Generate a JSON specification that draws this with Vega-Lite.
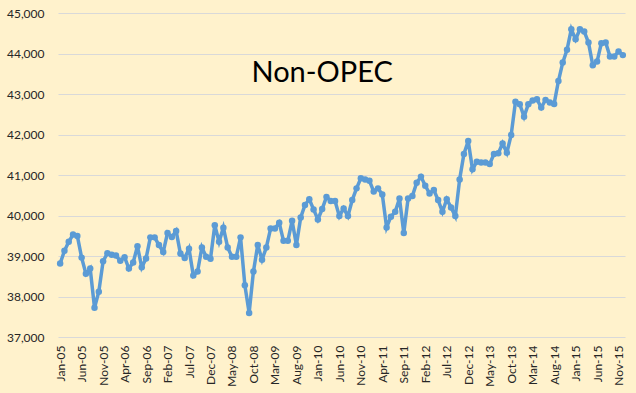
{
  "$schema": "https://vega.github.io/schema/vega-lite/v6.json",
  "autosize": {"type": "none"},
  "padding": {"left": 58, "top": 13, "right": 11, "bottom": 56},
  "width": 567,
  "height": 324,
  "background": "#FFF2CC",
  "config": {
    "view": {"stroke": null},
    "font": "Lato",
    "axis": {"labelFont": "Lato", "labelColor": "#262626", "labelFontSize": 12}
  },
  "datasets": {
    "series": [
      {"m": "Jan-05", "v": 38815}, {"m": "Feb-05", "v": 39127}, {"m": "Mar-05", "v": 39350}, {"m": "Apr-05", "v": 39530},
      {"m": "May-05", "v": 39495}, {"m": "Jun-05", "v": 38960}, {"m": "Jul-05", "v": 38560}, {"m": "Aug-05", "v": 38690},
      {"m": "Sep-05", "v": 37720}, {"m": "Oct-05", "v": 38120}, {"m": "Nov-05", "v": 38870}, {"m": "Dec-05", "v": 39070},
      {"m": "Jan-06", "v": 39030}, {"m": "Feb-06", "v": 39010}, {"m": "Mar-06", "v": 38880}, {"m": "Apr-06", "v": 38970},
      {"m": "May-06", "v": 38690}, {"m": "Jun-06", "v": 38840}, {"m": "Jul-06", "v": 39240}, {"m": "Aug-06", "v": 38720},
      {"m": "Sep-06", "v": 38940}, {"m": "Oct-06", "v": 39460}, {"m": "Nov-06", "v": 39460}, {"m": "Dec-06", "v": 39270},
      {"m": "Jan-07", "v": 39100}, {"m": "Feb-07", "v": 39570}, {"m": "Mar-07", "v": 39470}, {"m": "Apr-07", "v": 39620},
      {"m": "May-07", "v": 39060}, {"m": "Jun-07", "v": 38950}, {"m": "Jul-07", "v": 39180}, {"m": "Aug-07", "v": 38520},
      {"m": "Sep-07", "v": 38620}, {"m": "Oct-07", "v": 39210}, {"m": "Nov-07", "v": 38980}, {"m": "Dec-07", "v": 38930},
      {"m": "Jan-08", "v": 39760}, {"m": "Feb-08", "v": 39350}, {"m": "Mar-08", "v": 39700}, {"m": "Apr-08", "v": 39210},
      {"m": "May-08", "v": 38980}, {"m": "Jun-08", "v": 38980}, {"m": "Jul-08", "v": 39460}, {"m": "Aug-08", "v": 38280},
      {"m": "Sep-08", "v": 37595}, {"m": "Oct-08", "v": 38620}, {"m": "Nov-08", "v": 39270}, {"m": "Dec-08", "v": 38910},
      {"m": "Jan-09", "v": 39210}, {"m": "Feb-09", "v": 39680}, {"m": "Mar-09", "v": 39680}, {"m": "Apr-09", "v": 39820},
      {"m": "May-09", "v": 39375}, {"m": "Jun-09", "v": 39375}, {"m": "Jul-09", "v": 39870}, {"m": "Aug-09", "v": 39270},
      {"m": "Sep-09", "v": 39950}, {"m": "Oct-09", "v": 40260}, {"m": "Nov-09", "v": 40400}, {"m": "Dec-09", "v": 40150},
      {"m": "Jan-10", "v": 39900}, {"m": "Feb-10", "v": 40160}, {"m": "Mar-10", "v": 40460}, {"m": "Apr-10", "v": 40360},
      {"m": "May-10", "v": 40360}, {"m": "Jun-10", "v": 39985}, {"m": "Jul-10", "v": 40175}, {"m": "Aug-10", "v": 39985},
      {"m": "Sep-10", "v": 40380}, {"m": "Oct-10", "v": 40670}, {"m": "Nov-10", "v": 40920}, {"m": "Dec-10", "v": 40890},
      {"m": "Jan-11", "v": 40860}, {"m": "Feb-11", "v": 40590}, {"m": "Mar-11", "v": 40670}, {"m": "Apr-11", "v": 40520},
      {"m": "May-11", "v": 39705}, {"m": "Jun-11", "v": 39970}, {"m": "Jul-11", "v": 40090}, {"m": "Aug-11", "v": 40420},
      {"m": "Sep-11", "v": 39570}, {"m": "Oct-11", "v": 40420}, {"m": "Nov-11", "v": 40480}, {"m": "Dec-11", "v": 40810},
      {"m": "Jan-12", "v": 40960}, {"m": "Feb-12", "v": 40735}, {"m": "Mar-12", "v": 40545}, {"m": "Apr-12", "v": 40630},
      {"m": "May-12", "v": 40380}, {"m": "Jun-12", "v": 40090}, {"m": "Jul-12", "v": 40400}, {"m": "Aug-12", "v": 40200},
      {"m": "Sep-12", "v": 39985}, {"m": "Oct-12", "v": 40890}, {"m": "Nov-12", "v": 41520}, {"m": "Dec-12", "v": 41840},
      {"m": "Jan-13", "v": 41140}, {"m": "Feb-13", "v": 41330}, {"m": "Mar-13", "v": 41310}, {"m": "Apr-13", "v": 41310},
      {"m": "May-13", "v": 41270}, {"m": "Jun-13", "v": 41520}, {"m": "Jul-13", "v": 41535}, {"m": "Aug-13", "v": 41780},
      {"m": "Sep-13", "v": 41550}, {"m": "Oct-13", "v": 41990}, {"m": "Nov-13", "v": 42810}, {"m": "Dec-13", "v": 42750},
      {"m": "Jan-14", "v": 42440}, {"m": "Feb-14", "v": 42750}, {"m": "Mar-14", "v": 42840}, {"m": "Apr-14", "v": 42870},
      {"m": "May-14", "v": 42665}, {"m": "Jun-14", "v": 42855}, {"m": "Jul-14", "v": 42790}, {"m": "Aug-14", "v": 42755},
      {"m": "Sep-14", "v": 43320}, {"m": "Oct-14", "v": 43775}, {"m": "Nov-14", "v": 44090}, {"m": "Dec-14", "v": 44600},
      {"m": "Jan-15", "v": 44350}, {"m": "Feb-15", "v": 44600}, {"m": "Mar-15", "v": 44545}, {"m": "Apr-15", "v": 44270},
      {"m": "May-15", "v": 43710}, {"m": "Jun-15", "v": 43800}, {"m": "Jul-15", "v": 44255}, {"m": "Aug-15", "v": 44270},
      {"m": "Sep-15", "v": 43925}, {"m": "Oct-15", "v": 43925}, {"m": "Nov-15", "v": 44050}, {"m": "Dec-15", "v": 43960}
    ],
    "titleText": [{"t": "Non-OPEC", "m": "Feb-10", "v": 43520}]
  },
  "encoding": {
    "x": {
      "field": "m", "type": "ordinal", "sort": null,
      "scale": {"type": "point", "padding": 0.5},
      "axis": {
        "title": null, "labelAngle": -90, "labelPadding": 8, "ticks": false, "domain": false, "grid": false,
        "values": ["Jan-05","Jun-05","Nov-05","Apr-06","Sep-06","Feb-07","Jul-07","Dec-07","May-08","Oct-08","Mar-09","Aug-09","Jan-10","Jun-10","Nov-10","Apr-11","Sep-11","Feb-12","Jul-12","Dec-12","May-13","Oct-13","Mar-14","Aug-14","Jan-15","Jun-15","Nov-15"]
      }
    },
    "y": {
      "field": "v", "type": "quantitative",
      "scale": {"domain": [37000, 45000], "nice": false, "zero": false},
      "axis": {
        "title": null, "values": [37000, 38000, 39000, 40000, 41000, 42000, 43000, 44000, 45000],
        "format": ",d", "ticks": false, "domain": false, "labelPadding": 14,
        "gridColor": "#D9D9D9", "gridWidth": 1
      }
    }
  },
  "layer": [
    {
      "data": {"name": "series"},
      "mark": {"type": "line", "color": "#5B9BD5", "strokeWidth": 3.5, "point": {"filled": true, "size": 42, "color": "#5B9BD5", "opacity": 1}}
    },
    {
      "data": {"name": "titleText"},
      "mark": {"type": "text", "fontSize": 29, "font": "Lato", "color": "#000000", "align": "center", "baseline": "middle"},
      "encoding": {
        "text": {"field": "t"}
      }
    }
  ]
}
